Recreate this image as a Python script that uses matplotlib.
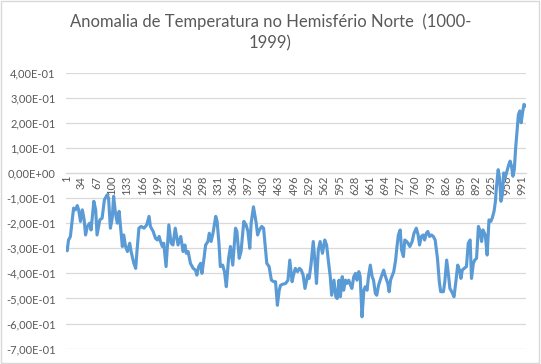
import matplotlib
matplotlib.use('Agg')
import matplotlib.pyplot as plt
from matplotlib.patches import Rectangle
from matplotlib.ticker import FuncFormatter, FixedLocator

# data (index of year, anomaly)
years = [1, 3, 6, 8, 10, 17, 21, 25, 28, 32, 36, 40, 43, 47, 52, 55, 61, 65, 68, 74,
         79, 84, 90, 93, 97, 101, 104, 108, 112, 116, 119, 123, 126, 130, 134, 139, 142, 148, 152, 155,
         159, 164, 170, 176, 181, 184, 190, 195, 199, 203, 206, 210, 213, 218, 224, 229, 233, 238, 244, 250,
         255, 259, 262, 266, 271, 277, 282, 285, 289, 293, 296, 300, 304, 309, 312, 316, 320, 326, 329, 333,
         336, 341, 345, 349, 354, 358, 363, 369, 372, 377, 381, 387, 392, 396, 400, 403, 408, 414, 417, 421,
         426, 430, 433, 437, 442, 447, 452, 456, 460, 464, 467, 472, 478, 483, 487, 492, 495, 499, 504, 508,
         512, 516, 520, 526, 529, 533, 538, 542, 545, 549, 553, 558, 563, 567, 571, 575, 578, 583, 587, 590,
         594, 597, 601, 604, 608, 611, 615, 619, 622, 626, 630, 633, 637, 640, 644, 648, 651, 655, 658, 662,
         666, 669, 673, 676, 680, 686, 691, 694, 700, 703, 706, 710, 713, 717, 720, 723, 727, 730, 734, 737,
         741, 744, 748, 753, 757, 762, 766, 769, 773, 777, 780, 784, 787, 791, 795, 799, 803, 808, 812, 815,
         821, 824, 828, 832, 835, 839, 844, 848, 852, 856, 859, 862, 866, 871, 875, 879, 882, 886, 889, 893,
         897, 900, 904, 907, 912, 916, 920, 924, 927, 931, 934, 936, 940, 943, 946, 949, 952, 955, 958, 960,
         963, 966, 969, 972, 975, 978, 981, 984, 987, 990, 993, 996, 1000]
anomaly = [-0.300, -0.310, -0.267, -0.260, -0.253, -0.140, -0.147, -0.130, -0.147, -0.193,
           -0.147, -0.187, -0.247, -0.213, -0.200, -0.227, -0.113, -0.147, -0.247, -0.187,
           -0.180, -0.107, -0.087, -0.100, -0.220, -0.180, -0.093, -0.160, -0.200, -0.153,
           -0.213, -0.293, -0.247, -0.293, -0.313, -0.280, -0.313, -0.360, -0.380, -0.307,
           -0.220, -0.213, -0.220, -0.207, -0.173, -0.213, -0.233, -0.260, -0.267, -0.253,
           -0.273, -0.293, -0.280, -0.373, -0.207, -0.280, -0.287, -0.220, -0.287, -0.253,
           -0.313, -0.287, -0.320, -0.313, -0.360, -0.380, -0.387, -0.407, -0.373, -0.360,
           -0.400, -0.347, -0.287, -0.273, -0.240, -0.273, -0.240, -0.173, -0.193, -0.280,
           -0.373, -0.367, -0.393, -0.453, -0.340, -0.293, -0.367, -0.220, -0.233, -0.340,
           -0.313, -0.193, -0.207, -0.233, -0.300, -0.200, -0.135, -0.200, -0.247, -0.227,
           -0.213, -0.220, -0.280, -0.360, -0.373, -0.427, -0.433, -0.433, -0.527, -0.467,
           -0.447, -0.443, -0.440, -0.427, -0.347, -0.433, -0.407, -0.380, -0.393, -0.380,
           -0.387, -0.407, -0.460, -0.407, -0.420, -0.367, -0.273, -0.360, -0.440, -0.307,
           -0.273, -0.320, -0.267, -0.287, -0.353, -0.413, -0.487, -0.427, -0.493, -0.500,
           -0.427, -0.493, -0.413, -0.467, -0.427, -0.440, -0.427, -0.447, -0.460, -0.413,
           -0.400, -0.427, -0.393, -0.413, -0.573, -0.467, -0.453, -0.467, -0.413, -0.367,
           -0.413, -0.427, -0.480, -0.487, -0.447, -0.413, -0.387, -0.407, -0.440, -0.473,
           -0.427, -0.407, -0.393, -0.347, -0.293, -0.247, -0.227, -0.307, -0.333, -0.267,
           -0.273, -0.280, -0.293, -0.273, -0.240, -0.220, -0.247, -0.287, -0.253, -0.247,
           -0.267, -0.240, -0.233, -0.253, -0.247, -0.253, -0.267, -0.340, -0.433, -0.473,
           -0.473, -0.433, -0.347, -0.407, -0.460, -0.473, -0.493, -0.433, -0.367, -0.387,
           -0.420, -0.387, -0.380, -0.373, -0.280, -0.267, -0.420, -0.360, -0.347, -0.340,
           -0.213, -0.227, -0.273, -0.227, -0.247, -0.327, -0.187, -0.193, -0.180, -0.153,
           -0.113, -0.060, 0.013, -0.020, -0.113, -0.087, 0.000, -0.020, 0.000, 0.013,
           0.033, 0.047, 0.027, -0.013, 0.013, 0.100, 0.167, 0.233, 0.247, 0.200,
           0.240, 0.273, 0.267]
tick_years = list(range(1, 1000, 33))
y_ticks = [0.4, 0.3, 0.2, 0.1, 0.0, -0.1, -0.2, -0.3, -0.4, -0.5, -0.6, -0.7]

plt.rcParams['font.family'] = ['Lato', 'DejaVu Sans']
txt = '#595959'
grid = '#D9D9D9'

fig = plt.figure(figsize=(5.41, 3.64), dpi=100)
ax = fig.add_axes([0.122, 0.042, 0.8503, 0.7588])

# axis line crossing at zero (set before the tick labels, it resets them)
for s in ['left', 'right', 'top']:
    ax.spines[s].set_visible(False)
ax.spines['bottom'].set_position(('data', 0))
ax.spines['bottom'].set_color(grid)
ax.spines['bottom'].set_linewidth(0.9)

ax.plot(years, anomaly, color='#5B9BD5', linewidth=2.25, solid_joinstyle='round', zorder=3)

ax.set_xlim(0.5, 1000.5)
ax.set_ylim(-0.7, 0.4)
ax.yaxis.set_major_locator(FixedLocator(y_ticks))
ax.yaxis.set_major_formatter(FuncFormatter(lambda v, p: ('%.2E' % v).replace('.', ',').replace('-0,00', '0,00')))
ax.grid(axis='y', color=grid, linewidth=0.9, zorder=0)

ax.set_xticks(tick_years)
ax.set_xticklabels([str(t) for t in tick_years])
ax.tick_params(axis='x', length=0, pad=2, labelsize=8, labelcolor=txt, labelrotation=90)
for lab in ax.get_xticklabels():
    lab.set_va('top')
    lab.set_ha('center')
ax.tick_params(axis='y', length=0, pad=7.5, labelsize=8, labelcolor=txt)

fig.text(0.5, 0.962, 'Anomalia de Temperatura no Hemisfério Norte  (1000-\n1999)',
         ha='center', va='top', fontsize=12, color=txt, linespacing=1.4)

fig.patches.append(Rectangle((0.5 / 541, 1.0 / 364), 538.5 / 541, 362.5 / 364, transform=fig.transFigure,
                             fill=False, edgecolor=grid, linewidth=1))

fig.savefig('out.png', dpi=100)
